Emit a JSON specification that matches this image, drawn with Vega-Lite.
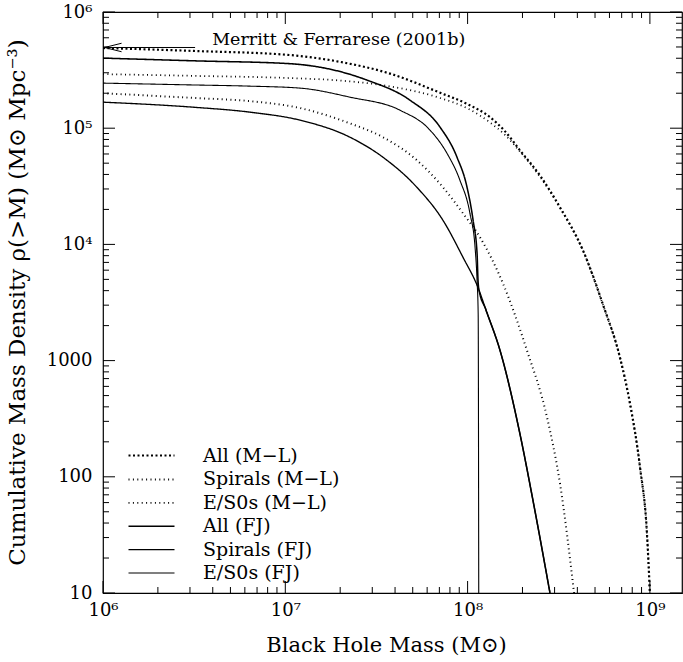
{
  "$schema": "https://vega.github.io/schema/vega-lite/v6.json",
  "width": 579,
  "height": 581,
  "autosize": {"type": "none"},
  "padding": {"left": 103, "top": 12, "right": 1, "bottom": 69},
  "background": "white",
  "config": {
    "font": "DejaVu Serif",
    "view": {"stroke": "black", "strokeWidth": 1.2},
    "axis": {
      "domain": false,
      "grid": false,
      "labelColor": "black",
      "titleColor": "black",
      "labelFont": "DejaVu Serif",
      "titleFont": "DejaVu Serif",
      "labelFontSize": 18,
      "titleFontSize": 21,
      "titleFontWeight": "normal",
      "labelOverlap": false,
      "labelFlush": false,
      "labelBound": false
    },
    "legend": {
      "orient": "none",
      "legendX": 37,
      "legendY": 432,
      "padding": 0,
      "symbolType": "M-2.3,0L2.3,0",
      "symbolSize": 400,
      "symbolStrokeColor": "black",
      "symbolFillColor": "transparent",
      "labelFont": "DejaVu Serif",
      "labelFontSize": 19,
      "labelColor": "black",
      "labelOffset": 40,
      "labelLimit": 400,
      "rowPadding": 2.4
    }
  },
  "datasets": {
    "curves": [
      {"series": "All (M−L)", "M": 1.0e6, "rho": 4.90e5},
      {"series": "All (M−L)", "M": 3.162e6, "rho": 4.62e5},
      {"series": "All (M−L)", "M": 1.062e7, "rho": 4.26e5},
      {"series": "All (M−L)", "M": 2.0e7, "rho": 3.72e5},
      {"series": "All (M−L)", "M": 3.75e7, "rho": 2.95e5},
      {"series": "All (M−L)", "M": 7.06e7, "rho": 2.02e5},
      {"series": "All (M−L)", "M": 1.0e8, "rho": 1.61e5},
      {"series": "All (M−L)", "M": 1.327e8, "rho": 1.245e5},
      {"series": "All (M−L)", "M": 1.585e8, "rho": 9.6e4},
      {"series": "All (M−L)", "M": 1.936e8, "rho": 6.46e4},
      {"series": "All (M−L)", "M": 2.512e8, "rho": 3.86e4},
      {"series": "All (M−L)", "M": 3.214e8, "rho": 2.08e4},
      {"series": "All (M−L)", "M": 4.295e8, "rho": 8.87e3},
      {"series": "All (M−L)", "M": 5.534e8, "rho": 3.02e3},
      {"series": "All (M−L)", "M": 6.855e8, "rho": 1.06e3},
      {"series": "All (M−L)", "M": 7.78e8, "rho": 426},
      {"series": "All (M−L)", "M": 8.831e8, "rho": 120},
      {"series": "All (M−L)", "M": 9.638e8, "rho": 32.3},
      {"series": "All (M−L)", "M": 1.0e9, "rho": 10},

      {"series": "Spirals (M−L)", "M": 1.0e6, "rho": 2.0e5},
      {"series": "Spirals (M−L)", "M": 3.162e6, "rho": 1.82e5},
      {"series": "Spirals (M−L)", "M": 6.4e6, "rho": 1.71e5},
      {"series": "Spirals (M−L)", "M": 1.205e7, "rho": 1.49e5},
      {"series": "Spirals (M−L)", "M": 2.265e7, "rho": 1.10e5},
      {"series": "Spirals (M−L)", "M": 3.436e7, "rho": 8.36e4},
      {"series": "Spirals (M−L)", "M": 5.27e7, "rho": 5.30e4},
      {"series": "Spirals (M−L)", "M": 7.33e7, "rho": 3.10e4},
      {"series": "Spirals (M−L)", "M": 9.44e7, "rho": 1.85e4},
      {"series": "Spirals (M−L)", "M": 1.17e8, "rho": 1.15e4},
      {"series": "Spirals (M−L)", "M": 1.563e8, "rho": 4.61e3},
      {"series": "Spirals (M−L)", "M": 2.118e8, "rho": 1.22e3},
      {"series": "Spirals (M−L)", "M": 2.729e8, "rho": 323},
      {"series": "Spirals (M−L)", "M": 3.214e8, "rho": 87.1},
      {"series": "Spirals (M−L)", "M": 3.837e8, "rho": 10},

      {"series": "E/S0s (M−L)", "M": 1.0e6, "rho": 2.92e5},
      {"series": "E/S0s (M−L)", "M": 3.162e6, "rho": 2.82e5},
      {"series": "E/S0s (M−L)", "M": 1.062e7, "rho": 2.70e5},
      {"series": "E/S0s (M−L)", "M": 2.0e7, "rho": 2.57e5},
      {"series": "E/S0s (M−L)", "M": 3.75e7, "rho": 2.29e5},
      {"series": "E/S0s (M−L)", "M": 7.06e7, "rho": 1.82e5},
      {"series": "E/S0s (M−L)", "M": 1.0e8, "rho": 1.48e5},
      {"series": "E/S0s (M−L)", "M": 1.327e8, "rho": 1.12e5},
      {"series": "E/S0s (M−L)", "M": 1.585e8, "rho": 8.91e4},
      {"series": "E/S0s (M−L)", "M": 1.936e8, "rho": 6.31e4},
      {"series": "E/S0s (M−L)", "M": 2.512e8, "rho": 3.76e4},
      {"series": "E/S0s (M−L)", "M": 3.214e8, "rho": 2.07e4},
      {"series": "E/S0s (M−L)", "M": 4.295e8, "rho": 8.85e3},
      {"series": "E/S0s (M−L)", "M": 5.534e8, "rho": 3.01e3},
      {"series": "E/S0s (M−L)", "M": 6.855e8, "rho": 1.06e3},
      {"series": "E/S0s (M−L)", "M": 7.78e8, "rho": 425},
      {"series": "E/S0s (M−L)", "M": 8.831e8, "rho": 119},
      {"series": "E/S0s (M−L)", "M": 9.638e8, "rho": 32.2},
      {"series": "E/S0s (M−L)", "M": 1.0e9, "rho": 10},

      {"series": "All (FJ)", "M": 1.0e6, "rho": 4.01e5},
      {"series": "All (FJ)", "M": 3.162e6, "rho": 3.80e5},
      {"series": "All (FJ)", "M": 1.062e7, "rho": 3.59e5},
      {"series": "All (FJ)", "M": 2.805e7, "rho": 2.594e5},
      {"series": "All (FJ)", "M": 4.83e7, "rho": 1.742e5},
      {"series": "All (FJ)", "M": 7.06e7, "rho": 1.021e5},
      {"series": "All (FJ)", "M": 8.75e7, "rho": 5.62e4},
      {"series": "All (FJ)", "M": 9.93e7, "rho": 3.10e4},
      {"series": "All (FJ)", "M": 1.072e8, "rho": 1.61e4},
      {"series": "All (FJ)", "M": 1.127e8, "rho": 8.36e3},
      {"series": "All (FJ)", "M": 1.140e8, "rho": 5.01e3},
      {"series": "All (FJ)", "M": 1.151e8, "rho": 4.17e3},
      {"series": "All (FJ)", "M": 1.259e8, "rho": 2.75e3},
      {"series": "All (FJ)", "M": 1.507e8, "rho": 1.22e3},
      {"series": "All (FJ)", "M": 1.936e8, "rho": 235},
      {"series": "All (FJ)", "M": 2.286e8, "rho": 62.1},
      {"series": "All (FJ)", "M": 2.831e8, "rho": 10},

      {"series": "Spirals (FJ)", "M": 1.0e6, "rho": 1.675e5},
      {"series": "Spirals (FJ)", "M": 3.162e6, "rho": 1.514e5},
      {"series": "Spirals (FJ)", "M": 6.4e6, "rho": 1.374e5},
      {"series": "Spirals (FJ)", "M": 1.205e7, "rho": 1.172e5},
      {"series": "Spirals (FJ)", "M": 2.265e7, "rho": 8.36e4},
      {"series": "Spirals (FJ)", "M": 3.436e7, "rho": 5.62e4},
      {"series": "Spirals (FJ)", "M": 5.27e7, "rho": 3.10e4},
      {"series": "Spirals (FJ)", "M": 7.33e7, "rho": 1.61e4},
      {"series": "Spirals (FJ)", "M": 9.44e7, "rho": 7.73e3},
      {"series": "Spirals (FJ)", "M": 1.14e8, "rho": 4.26e3},
      {"series": "Spirals (FJ)", "M": 1.259e8, "rho": 2.75e3},
      {"series": "Spirals (FJ)", "M": 1.507e8, "rho": 1.22e3},
      {"series": "Spirals (FJ)", "M": 1.936e8, "rho": 235},
      {"series": "Spirals (FJ)", "M": 2.286e8, "rho": 62.1},
      {"series": "Spirals (FJ)", "M": 2.831e8, "rho": 10},

      {"series": "E/S0s (FJ)", "M": 1.0e6, "rho": 2.443e5},
      {"series": "E/S0s (FJ)", "M": 3.162e6, "rho": 2.355e5},
      {"series": "E/S0s (FJ)", "M": 6.4e6, "rho": 2.301e5},
      {"series": "E/S0s (FJ)", "M": 1.205e7, "rho": 2.213e5},
      {"series": "E/S0s (FJ)", "M": 2.265e7, "rho": 1.849e5},
      {"series": "E/S0s (FJ)", "M": 4.256e7, "rho": 1.429e5},
      {"series": "E/S0s (FJ)", "M": 6.223e7, "rho": 9.62e4},
      {"series": "E/S0s (FJ)", "M": 7.709e7, "rho": 6.08e4},
      {"series": "E/S0s (FJ)", "M": 9.078e7, "rho": 3.56e4},
      {"series": "E/S0s (FJ)", "M": 1.03e8, "rho": 1.85e4},
      {"series": "E/S0s (FJ)", "M": 1.099e8, "rho": 9.42e3},
      {"series": "E/S0s (FJ)", "M": 1.127e8, "rho": 4.90e3},
      {"series": "E/S0s (FJ)", "M": 1.143e8, "rho": 2.5e3},
      {"series": "E/S0s (FJ)", "M": 1.151e8, "rho": 10}
    ],
    "note": [
      {"label": "Merritt & Ferrarese (2001b)", "M": 3.97e6, "rho": 4.95e5, "M2": 3.2e6, "Mtip": 1.02e6}
    ]
  },
  "layer": [
    {
      "data": {"name": "curves"},
      "mark": {"type": "line", "clip": true, "interpolate": "monotone", "color": "black", "strokeCap": "butt"},
      "encoding": {
        "x": {
          "field": "M", "type": "quantitative",
          "scale": {"type": "log", "domain": [1000000, 1500000000], "nice": false},
          "axis": {
            "orient": "bottom",
            "values": [1000000, 10000000, 100000000, 1000000000],
            "ticks": false,
            "labelExpr": "datum.value == 1000000 ? '10⁶' : datum.value == 10000000 ? '10⁷' : datum.value == 100000000 ? '10⁸' : datum.value == 1000000000 ? '10⁹' : ''",
            "labelPadding": 8,
            "title": "Black Hole Mass (M⊙)",
            "titleX": 283,
            "titleY": 58,
            "titleAlign": "center",
            "titleBaseline": "alphabetic"
          }
        },
        "y": {
          "field": "rho", "type": "quantitative",
          "scale": {"type": "log", "domain": [10, 1000000], "nice": false},
          "axis": {
            "orient": "left",
            "values": [10, 100, 1000, 10000, 100000, 1000000],
            "ticks": false,
            "labelExpr": "datum.value == 1000000 ? '10⁶' : datum.value == 100000 ? '10⁵' : datum.value == 10000 ? '10⁴' : datum.value == 1000 ? '1000' : datum.value == 100 ? '100' : datum.value == 10 ? '10' : ''",
            "labelPadding": 11,
            "title": "Cumulative Mass Density ρ(>M)   (M⊙ Mpc⁻³)",
            "titleFontSize": 23,
            "titleX": -86,
            "titleY": 290,
            "titleAngle": -90,
            "titleAlign": "center",
            "titleBaseline": "middle"
          }
        },
        "strokeDash": {
          "field": "series", "type": "nominal",
          "scale": {
            "domain": ["All (M−L)", "Spirals (M−L)", "E/S0s (M−L)", "All (FJ)", "Spirals (FJ)", "E/S0s (FJ)"],
            "range": [[2, 2.5], [1, 3.4], [1, 3.4], [1, 0], [1, 0], [1, 0]]
          },
          "legend": {"title": null}
        },
        "strokeWidth": {
          "field": "series", "type": "nominal",
          "scale": {
            "domain": ["All (M−L)", "Spirals (M−L)", "E/S0s (M−L)", "All (FJ)", "Spirals (FJ)", "E/S0s (FJ)"],
            "range": [2.2, 1.1, 1.1, 2.8, 1, 1]
          },
          "legend": {"title": null}
        }
      }
    },
    {
      "data": {"values": [{"v": 1000000}, {"v": 10000000}, {"v": 100000000}, {"v": 1000000000}]},
      "mark": {"type": "rule", "color": "black", "strokeWidth": 1, "y2Offset": -12},
      "encoding": {
        "x": {"field": "v", "type": "quantitative", "scale": {"type": "log", "domain": [1000000, 1500000000], "nice": false}, "axis": null},
        "y": {"datum": 10, "type": "quantitative", "scale": {"type": "log", "domain": [10, 1000000], "nice": false}, "axis": null},
        "y2": {"datum": 10}
      }
    },
    {
      "data": {"values": [
        {"v": 2000000}, {"v": 3000000}, {"v": 4000000}, {"v": 5000000}, {"v": 6000000}, {"v": 7000000}, {"v": 8000000}, {"v": 9000000},
        {"v": 20000000}, {"v": 30000000}, {"v": 40000000}, {"v": 50000000}, {"v": 60000000}, {"v": 70000000}, {"v": 80000000}, {"v": 90000000},
        {"v": 200000000}, {"v": 300000000}, {"v": 400000000}, {"v": 500000000}, {"v": 600000000}, {"v": 700000000}, {"v": 800000000}, {"v": 900000000}
      ]},
      "mark": {"type": "rule", "color": "black", "strokeWidth": 1, "y2Offset": -6},
      "encoding": {
        "x": {"field": "v", "type": "quantitative", "scale": {"type": "log", "domain": [1000000, 1500000000], "nice": false}, "axis": null},
        "y": {"datum": 10, "type": "quantitative", "scale": {"type": "log", "domain": [10, 1000000], "nice": false}, "axis": null},
        "y2": {"datum": 10}
      }
    },
    {
      "data": {"values": [{"v": 1000000}, {"v": 10000000}, {"v": 100000000}, {"v": 1000000000}]},
      "mark": {"type": "rule", "color": "black", "strokeWidth": 1, "y2Offset": 12},
      "encoding": {
        "x": {"field": "v", "type": "quantitative", "scale": {"type": "log", "domain": [1000000, 1500000000], "nice": false}, "axis": null},
        "y": {"datum": 1000000, "type": "quantitative", "scale": {"type": "log", "domain": [10, 1000000], "nice": false}, "axis": null},
        "y2": {"datum": 1000000}
      }
    },
    {
      "data": {"values": [
        {"v": 2000000}, {"v": 3000000}, {"v": 4000000}, {"v": 5000000}, {"v": 6000000}, {"v": 7000000}, {"v": 8000000}, {"v": 9000000},
        {"v": 20000000}, {"v": 30000000}, {"v": 40000000}, {"v": 50000000}, {"v": 60000000}, {"v": 70000000}, {"v": 80000000}, {"v": 90000000},
        {"v": 200000000}, {"v": 300000000}, {"v": 400000000}, {"v": 500000000}, {"v": 600000000}, {"v": 700000000}, {"v": 800000000}, {"v": 900000000}
      ]},
      "mark": {"type": "rule", "color": "black", "strokeWidth": 1, "y2Offset": 6},
      "encoding": {
        "x": {"field": "v", "type": "quantitative", "scale": {"type": "log", "domain": [1000000, 1500000000], "nice": false}, "axis": null},
        "y": {"datum": 1000000, "type": "quantitative", "scale": {"type": "log", "domain": [10, 1000000], "nice": false}, "axis": null},
        "y2": {"datum": 1000000}
      }
    },
    {
      "data": {"values": [{"v": 10}, {"v": 100}, {"v": 1000}, {"v": 10000}, {"v": 100000}, {"v": 1000000}]},
      "mark": {"type": "rule", "color": "black", "strokeWidth": 1, "x2Offset": 12},
      "encoding": {
        "y": {"field": "v", "type": "quantitative", "scale": {"type": "log", "domain": [10, 1000000], "nice": false}, "axis": null},
        "x": {"datum": 1000000, "type": "quantitative", "scale": {"type": "log", "domain": [1000000, 1500000000], "nice": false}, "axis": null},
        "x2": {"datum": 1000000}
      }
    },
    {
      "data": {"values": [
        {"v": 20}, {"v": 30}, {"v": 40}, {"v": 50}, {"v": 60}, {"v": 70}, {"v": 80}, {"v": 90},
        {"v": 200}, {"v": 300}, {"v": 400}, {"v": 500}, {"v": 600}, {"v": 700}, {"v": 800}, {"v": 900},
        {"v": 2000}, {"v": 3000}, {"v": 4000}, {"v": 5000}, {"v": 6000}, {"v": 7000}, {"v": 8000}, {"v": 9000},
        {"v": 20000}, {"v": 30000}, {"v": 40000}, {"v": 50000}, {"v": 60000}, {"v": 70000}, {"v": 80000}, {"v": 90000},
        {"v": 200000}, {"v": 300000}, {"v": 400000}, {"v": 500000}, {"v": 600000}, {"v": 700000}, {"v": 800000}, {"v": 900000}
      ]},
      "mark": {"type": "rule", "color": "black", "strokeWidth": 1, "x2Offset": 6},
      "encoding": {
        "y": {"field": "v", "type": "quantitative", "scale": {"type": "log", "domain": [10, 1000000], "nice": false}, "axis": null},
        "x": {"datum": 1000000, "type": "quantitative", "scale": {"type": "log", "domain": [1000000, 1500000000], "nice": false}, "axis": null},
        "x2": {"datum": 1000000}
      }
    },
    {
      "data": {"values": [{"v": 10}, {"v": 100}, {"v": 1000}, {"v": 10000}, {"v": 100000}, {"v": 1000000}]},
      "mark": {"type": "rule", "color": "black", "strokeWidth": 1, "x2Offset": -12},
      "encoding": {
        "y": {"field": "v", "type": "quantitative", "scale": {"type": "log", "domain": [10, 1000000], "nice": false}, "axis": null},
        "x": {"datum": 1500000000, "type": "quantitative", "scale": {"type": "log", "domain": [1000000, 1500000000], "nice": false}, "axis": null},
        "x2": {"datum": 1500000000}
      }
    },
    {
      "data": {"values": [
        {"v": 20}, {"v": 30}, {"v": 40}, {"v": 50}, {"v": 60}, {"v": 70}, {"v": 80}, {"v": 90},
        {"v": 200}, {"v": 300}, {"v": 400}, {"v": 500}, {"v": 600}, {"v": 700}, {"v": 800}, {"v": 900},
        {"v": 2000}, {"v": 3000}, {"v": 4000}, {"v": 5000}, {"v": 6000}, {"v": 7000}, {"v": 8000}, {"v": 9000},
        {"v": 20000}, {"v": 30000}, {"v": 40000}, {"v": 50000}, {"v": 60000}, {"v": 70000}, {"v": 80000}, {"v": 90000},
        {"v": 200000}, {"v": 300000}, {"v": 400000}, {"v": 500000}, {"v": 600000}, {"v": 700000}, {"v": 800000}, {"v": 900000}
      ]},
      "mark": {"type": "rule", "color": "black", "strokeWidth": 1, "x2Offset": -6},
      "encoding": {
        "y": {"field": "v", "type": "quantitative", "scale": {"type": "log", "domain": [10, 1000000], "nice": false}, "axis": null},
        "x": {"datum": 1500000000, "type": "quantitative", "scale": {"type": "log", "domain": [1000000, 1500000000], "nice": false}, "axis": null},
        "x2": {"datum": 1500000000}
      }
    },
    {
      "data": {"name": "note"},
      "mark": {"type": "rule", "color": "black", "strokeWidth": 1},
      "encoding": {
        "x": {"field": "Mtip", "type": "quantitative", "scale": {"type": "log", "domain": [1000000, 1500000000], "nice": false}, "axis": null},
        "x2": {"field": "M2"},
        "y": {"field": "rho", "type": "quantitative", "scale": {"type": "log", "domain": [10, 1000000], "nice": false}, "axis": null}
      }
    },
    {
      "data": {"name": "note"},
      "mark": {"type": "point", "shape": "M2,-0.5L0,0L2,0.5", "size": 289, "filled": false, "stroke": "black", "strokeWidth": 1, "opacity": 1},
      "encoding": {
        "x": {"field": "Mtip", "type": "quantitative", "scale": {"type": "log", "domain": [1000000, 1500000000], "nice": false}, "axis": null},
        "y": {"field": "rho", "type": "quantitative", "scale": {"type": "log", "domain": [10, 1000000], "nice": false}, "axis": null}
      }
    },
    {
      "data": {"name": "note"},
      "mark": {"type": "text", "align": "left", "baseline": "alphabetic", "dy": -2, "font": "DejaVu Serif", "fontSize": 17.5, "color": "black"},
      "encoding": {
        "x": {"field": "M", "type": "quantitative", "scale": {"type": "log", "domain": [1000000, 1500000000], "nice": false}, "axis": null},
        "y": {"field": "rho", "type": "quantitative", "scale": {"type": "log", "domain": [10, 1000000], "nice": false}, "axis": null},
        "text": {"field": "label"}
      }
    }
  ],
  "resolve": {"axis": {"x": "independent", "y": "independent"}}
}
